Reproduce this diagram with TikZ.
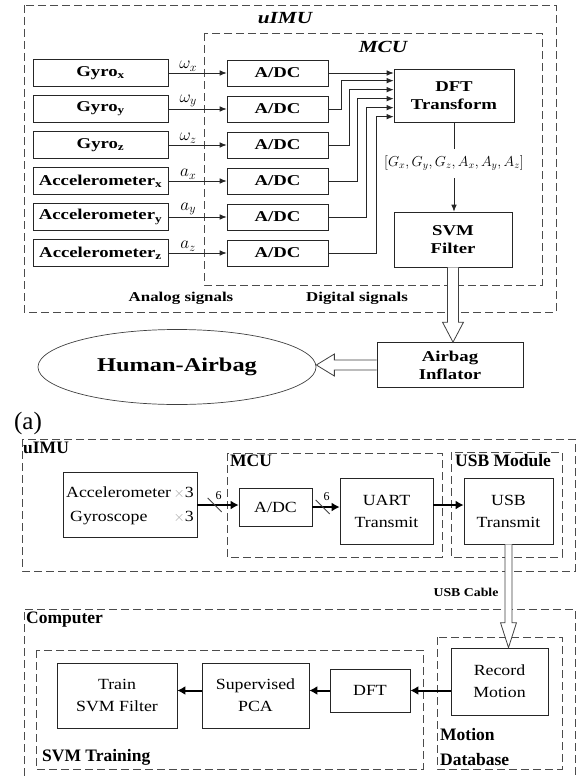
\documentclass[tikz,border=0pt]{standalone}
\usepackage{fontspec}
\setmainfont{Liberation Serif}
\newfontfamily\topfont[FakeStretch=1.25]{Liberation Serif}
\newfontfamily\botfont[FakeStretch=1.15]{Liberation Serif}
\usetikzlibrary{arrows.meta,calc,shapes.geometric}
\newcommand\hollowarrow[6][]{%
  \coordinate (hb) at ($(#3)!#6!(#2)$);
  \filldraw[hollow,#1] ($(#2)!#4!90:(#3)$) -- ($(hb)!#4!90:(#3)$) -- ($(hb)!#5!90:(#3)$) -- (#3)
    -- ($(hb)!#5!-90:(#3)$) -- ($(hb)!#4!-90:(#3)$) -- ($(#2)!#4!-90:(#3)$);
}
\begin{document}
\begin{tikzpicture}[x=1pt,y=-1pt,
  tfont/.style={font=\topfont\bfseries\fontsize{15}{18}\selectfont},
  tbox/.style={draw=black!85, line width=0.7pt, inner sep=0pt, align=center, tfont},
  tdash/.style={draw=black!70, line width=0.8pt, dash pattern=on 8pt off 4pt},
  tarrow/.style={draw=black!85, line width=0.7pt, -{Latex[length=7pt,width=5.5pt]}},
  hollow/.style={draw=black!75, line width=0.8pt, fill=white},
  bfont/.style={font=\botfont\fontsize{15.5}{22}\selectfont},
  bbox/.style={draw=black!85, line width=0.7pt, inner sep=0pt, align=center, bfont},
  blabel/.style={font=\bfseries\fontsize{17.5}{25}\selectfont, inner sep=1pt, align=left},
  bdash/.style={draw=black!70, line width=1pt, dash pattern=on 8pt off 4pt},
  barrow/.style={draw=black, line width=2pt, -{Latex[length=8pt,width=9pt]}},
  slash/.style={draw=black!75, line width=0.8pt},
  six/.style={font=\fontsize{12}{12}\selectfont, inner sep=0pt},
]
\useasboundingbox (0,0) rectangle (579,776);

% ---------------- top panel ----------------
\draw[tdash] (24,5) rectangle (556,312);
\draw[tdash] (204,33) rectangle (542,285);
\node[font=\topfont\bfseries\itshape\fontsize{17}{18}\selectfont] (luimu) at (285,18) {uIMU};
\node[font=\topfont\bfseries\itshape\fontsize{17}{18}\selectfont] (lmcu) at (383,47) {MCU};

\node[tbox, minimum width=135pt, minimum height=27pt] (gx) at (100.5,73) {Gyro\textsubscript{x}};
\node[tbox, minimum width=135pt, minimum height=27pt] (gy) at (100.5,109) {Gyro\textsubscript{y}};
\node[tbox, minimum width=135pt, minimum height=27pt] (gz) at (100.5,145) {Gyro\textsubscript{z}};
\node[tbox, minimum width=135pt, minimum height=27pt] (ax) at (100.5,181) {Accelerometer\textsubscript{x}};
\node[tbox, minimum width=135pt, minimum height=27pt] (ay) at (100.5,217) {Accelerometer\textsubscript{y}};
\node[tbox, minimum width=135pt, minimum height=27pt] (az) at (100.5,253) {Accelerometer\textsubscript{z}};

\foreach \i/\y in {1/73,2/109,3/145,4/181,5/217,6/253}
  \node[tbox, minimum width=101pt, minimum height=26pt] (c\i) at (277.5,\y) {A/DC};

\node[tbox, minimum width=120pt, minimum height=53pt] (dft) at (454,95.5) {DFT\\Transform};
\node[tbox, minimum width=118pt, minimum height=55pt] (svm) at (453,239.5) {SVM\\Filter};
\node[tbox, minimum width=146pt, minimum height=45pt] (inflator) at (450,365) {Airbag\\Inflator};
\node[ellipse, draw=black!75, line width=0.7pt, minimum width=278pt, minimum height=75pt, inner sep=0pt,
      font=\topfont\bfseries\fontsize{19.5}{20}\selectfont] (hab) at (177,367) {Human-Airbag};

\foreach \s/\c/\l in {gx/c1/\omega_x, gy/c2/\omega_y, gz/c3/\omega_z, ax/c4/a_x, ay/c5/a_y, az/c6/a_z}
  \draw[tarrow] (\s.east) -- node[above, pos=0.34, inner sep=1.5pt, font=\fontsize{17}{17}\selectfont]{$\l$} (\s.east -| \c.west);

\coordinate (in2) at ($(dft.north west)+(0,12)$);
\coordinate (in3) at ($(dft.north west)+(0,21)$);
\coordinate (in4) at ($(dft.north west)+(0,30)$);
\coordinate (in5) at ($(dft.north west)+(0,39)$);
\coordinate (in6) at ($(dft.north west)+(0,48)$);
\draw[tarrow] (c1.east) -- (c1.east -| dft.west);
\draw[tarrow] (c2.east) -| ($(in2)+(-52,0)$) -- (in2);
\draw[tarrow] (c3.east) -| ($(in3)+(-44,0)$) -- (in3);
\draw[tarrow] (c4.east) -| ($(in4)+(-36,0)$) -- (in4);
\draw[tarrow] (c5.east) -| ($(in5)+(-27,0)$) -- (in5);
\draw[tarrow] (c6.east) -| ($(in6)+(-17,0)$) -- (in6);

\draw[tarrow] (dft.south) -- node[fill=white, inner xsep=1pt, inner ysep=7pt, pos=0.46, font=\fontsize{14}{15}\selectfont]{$[G_x,G_y,G_z,A_x,A_y,A_z]$} (dft.south |- svm.north);

\node[font=\topfont\bfseries\fontsize{13.5}{15}\selectfont] (lana) at (181,298) {Analog signals};
\node[font=\topfont\bfseries\fontsize{13.5}{15}\selectfont] (ldig) at (357,298) {Digital signals};

\coordinate (t1) at (svm.south |- inflator.north);
\hollowarrow{svm.south}{t1}{5.5pt}{10.5pt}{20pt}
\coordinate (t2) at (hab.east |- inflator.west);
\hollowarrow{inflator.west}{t2}{5pt}{11pt}{18pt}

\node[font=\fontsize{25}{28}\selectfont, inner sep=0pt] (lab) at (28,423) {(a)};

% ---------------- bottom panel ----------------
\draw[bdash] (22,439) rectangle (575,571);
\draw[bdash] (227,453) rectangle (442,557);
\draw[bdash] (451,452) rectangle (562,557);
\node[blabel, anchor=north west] (l2uimu) at (22,441) {uIMU};
\node[blabel, anchor=north west] (l2mcu) at (229,454) {MCU};
\node[blabel, anchor=north west] (l2usb) at (454,453) {USB Module};

\node[bbox, minimum width=134pt, minimum height=65pt] (sens) at (130,505)
  {\begin{tabular}{@{}l@{\,}r@{}}Accelerometer & {\color{gray!70}$\times$}3\\[2pt] \hspace{4pt}Gyroscope & {\color{gray!70}$\times$}3\end{tabular}};
\node[bbox, minimum width=73pt, minimum height=38pt] (adcb) at (275.5,507) {A/DC};
\node[bbox, minimum width=93pt, minimum height=66pt] (uart) at (386.5,511) {UART\\Transmit};
\node[bbox, minimum width=89pt, minimum height=66pt] (usbt) at (508.5,511) {USB\\Transmit};

\draw[barrow] (sens.east) -- coordinate[pos=0.42] (m1) (sens.east -| adcb.west);
\draw[slash] ($(m1)+(-7,-7)$) -- ($(m1)+(7,7)$);
\node[six] (six1) at ($(m1)+(4,-9)$) {6};
\draw[barrow] (adcb.east) -- coordinate[pos=0.38] (m2) (adcb.east -| uart.west);
\draw[slash] ($(m2)+(-7,-7)$) -- ($(m2)+(7,7)$);
\node[six] (six2) at ($(m2)+(4,-10)$) {6};
\draw[barrow] ([yshift=6pt]uart.east) -- ([yshift=6pt]uart.east -| usbt.west);

% computer
\draw[bdash] (24,776) -- (24,609) -- (575,609) -- (575,776);
\draw[bdash] (36,650) rectangle (423,769);
\draw[bdash] (437,637) rectangle (562,769);
\node[blabel, anchor=north west] (lcomp) at (25,611) {Computer};
\node[blabel, anchor=south west] (lsvmt) at (41,767) {SVM Training};
\node[blabel, anchor=south west] (lmdb) at (439,767) {Motion\\Database};

\node[bbox, minimum width=120pt, minimum height=65pt] (train) at (117,695.5) {Train\\SVM Filter};
\node[bbox, minimum width=107pt, minimum height=65pt] (spca) at (255.5,695.5) {Supervised\\PCA};
\node[bbox, minimum width=80pt, minimum height=43pt] (dftb) at (370,690.5) {DFT};
\node[bbox, minimum width=97pt, minimum height=67pt] (rec) at (499.5,681.5) {Record\\Motion};

\coordinate (t3) at (usbt.south |- rec.north);
\hollowarrow{usbt.south}{t3}{3.5pt}{8pt}{25pt}
\node[font=\botfont\bfseries\fontsize{12}{14}\selectfont] (lcable) at (466,592) {USB Cable};

\draw[barrow] (dftb.east -| rec.west) -- (dftb.east);
\draw[barrow] (dftb.west) -- (dftb.west -| spca.east);
\draw[barrow] (spca.west |- dftb.west) -- (spca.west |- dftb.west -| train.east);
\end{tikzpicture}
\end{document}
